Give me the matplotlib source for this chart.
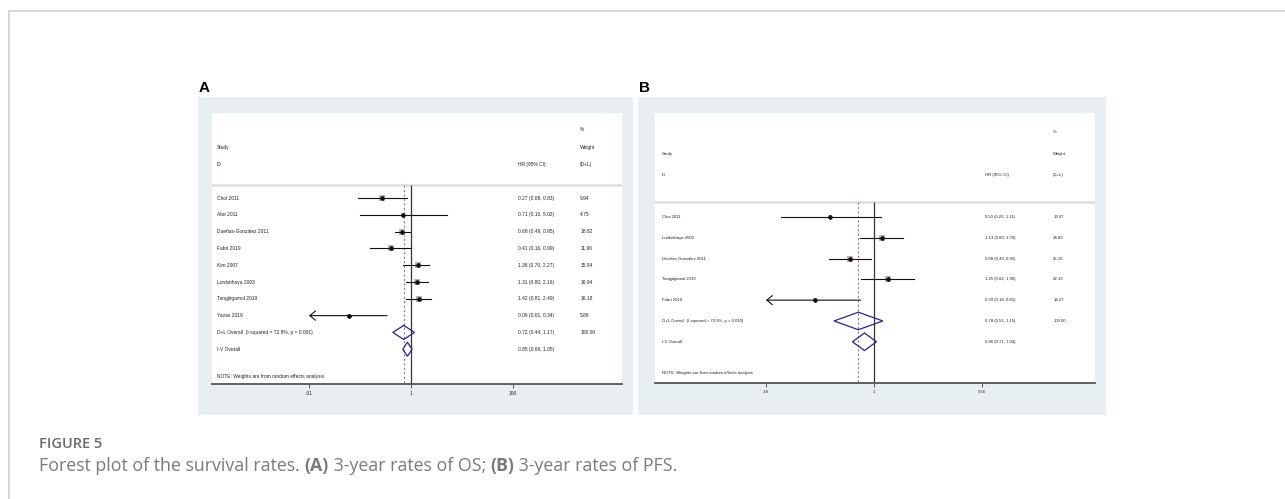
import matplotlib
matplotlib.use("Agg")
import matplotlib.pyplot as plt
from matplotlib.patches import Rectangle, Polygon
from matplotlib.transforms import blended_transform_factory

W, H = 1285, 499

# panel A: 3-year OS
a_studies = ["Choi 2011", "Abe 2011", "Dueñas-Gonzalez 2011", "Fabri 2019", "Kim 2007",
             "Lordvithaya 2003", "Tangjitgamol 2019", "Yavas 2019"]
a_hr = [0.27, 0.71, 0.68, 0.41, 1.38, 1.31, 1.42, 0.06]
a_lo = [0.09, 0.10, 0.49, 0.16, 0.70, 0.80, 0.81, 0.01]
a_hi = [0.83, 5.02, 0.95, 0.99, 2.27, 2.16, 2.49, 0.34]
a_wt = [9.94, 4.75, 18.82, 11.96, 15.84, 16.94, 16.18, 5.86]
a_dl = [0.72, 0.44, 1.17]
a_iv = [0.85, 0.69, 1.05]
a_isq = "72.8%"
a_p = "0.001"
a_ticks = [0.01, 1, 100]
a_ticklabels = [".01", "1", "100"]

# panel B: 3-year PFS
b_studies = ["Choi 2011", "Lordvithaya 2003", "Dueñas-Gonzalez 2011", "Tangjitgamol 2019", "Fabri 2019"]
b_hr = [0.50, 1.13, 0.68, 1.25, 0.39]
b_lo = [0.23, 0.80, 0.49, 0.82, 0.18]
b_hi = [1.11, 1.59, 0.95, 1.90, 0.81]
b_wt = [13.07, 24.83, 25.16, 22.19, 14.27]
b_dl = [0.78, 0.53, 1.15]
b_iv = [0.86, 0.71, 1.04]
b_isq = "70.9%"
b_p = "0.010"
b_ticks = [0.18, 1, 5.56]
b_ticklabels = [".18", "1", "5.56"]

plt.rcParams['font.family'] = ['Liberation Sans', 'DejaVu Sans']

fig = plt.figure(figsize=(W / 100, H / 100), dpi=100)
bg = fig.add_axes([0, 0, 1, 1])
bg.set_xlim(0, W)
bg.set_ylim(H, 0)
bg.axis('off')

# outer frame (top and left)
bg.plot([9, W], [11, 11], color='#cfcfcf', lw=1.2)
bg.plot([9, 9], [11, H], color='#cfcfcf', lw=1.2)

PANEL_BG = '#e8eff2'
TXT = '#222222'


def fx(px):
    return px / W


def fy(py):
    return 1 - py / H


def panel(label, gray, white, xlog, rows_lim, sep, cols, studies, hr, lo, hi, wt,
          dl, iv, isq, p, ticks, ticklabels, box_k, fs):
    gx0, gy0, gx1, gy1 = gray
    bg.add_patch(Rectangle((gx0, gy0), gx1 - gx0, gy1 - gy0, color=PANEL_BG, lw=0))
    bg.text(gx0 + 1, gy0 - 5, label, fontsize=11, fontweight='bold', ha='left', va='baseline')

    wx0, wy0, wx1, wy1 = white
    ax = fig.add_axes([fx(wx0), fy(wy1), fx(wx1) - fx(wx0), (wy1 - wy0) / H])
    ax.set_facecolor('white')
    ax.set_xscale('log')
    ax.set_xlim(10 ** xlog[0], 10 ** xlog[1])
    ax.set_ylim(rows_lim[1], rows_lim[0])
    for s in ['top', 'left', 'right']:
        ax.spines[s].set_visible(False)
    ax.spines['bottom'].set_color('#555555')
    ax.spines['bottom'].set_linewidth(1.3)
    ax.set_yticks([])
    ax.set_xticks(ticks)
    ax.set_xticklabels(ticklabels)
    ax.minorticks_off()
    ax.tick_params(axis='x', length=3, width=0.7, color='#555555', labelsize=fs, pad=2,
                   labelcolor=TXT)

    tr = blended_transform_factory(ax.transAxes, ax.transData)
    c_study, c_hr, c_wt = cols
    bottom = rows_lim[1]

    ax.axhline(sep, color='#dddddd', lw=1.8)
    ax.vlines(1, sep, bottom, color='#333333', lw=0.9)
    ax.vlines(dl[0], sep, bottom, color='#c06a6a', lw=0.8, linestyles=(0, (2, 2)))

    kw = dict(fontsize=fs, color=TXT, va='center', transform=tr)
    ax.text(c_wt, -4.1, "%", **kw)
    ax.text(c_study, -3, "Study", **kw)
    ax.text(c_wt, -3, "Weight", **kw)
    ax.text(c_study, -2, "ID", **kw)
    ax.text(c_hr, -2, "HR (95% CI)", **kw)
    ax.text(c_wt, -2, "(D+L)", **kw)

    for i, name in enumerate(studies):
        ax.scatter(hr[i], i, marker='s', s=(box_k * wt[i] ** 0.5) ** 2, color='#b5b5b5',
                   lw=0, zorder=2)
        if lo[i] <= ticks[0]:
            ax.annotate("", xy=(ticks[0], i), xytext=(hi[i], i), zorder=3,
                        arrowprops=dict(arrowstyle='->, head_length=0.4, head_width=0.33',
                                        lw=0.8, color='#111111', shrinkA=0, shrinkB=0))
        else:
            ax.plot([lo[i], hi[i]], [i, i], color='#111111', lw=0.8, zorder=3)
        ax.plot(hr[i], i, marker='D', ms=2.0, color='#111111', zorder=4)
        ax.text(c_study, i, name, **kw)
        ax.text(c_hr, i, f"{hr[i]:.2f} ({lo[i]:.2f}, {hi[i]:.2f})", **kw)
        ax.text(c_wt, i, f"{wt[i]:.2f}", **kw)

    n = len(studies)
    for j, (est, l, h) in enumerate([dl, iv]):
        y = n + j
        ax.add_patch(Polygon([(l, y), (est, y - 0.42), (h, y), (est, y + 0.42)],
                             closed=True, fill=False, edgecolor='#1f2a8a', lw=0.9, zorder=3))
        ax.text(c_hr, y, f"{est:.2f} ({l:.2f}, {h:.2f})", **kw)
    ax.text(c_study, n, f"D+L Overall  (I-squared = {isq}, p = {p})", **kw)
    ax.text(c_wt, n, "100.00", **kw)
    ax.text(c_study, n + 1, "I-V Overall", **kw)
    ax.text(c_study, rows_lim[2], "NOTE: Weights are from random effects analysis", **kw)
    return ax


panel("A", (198, 97, 633, 415), (212, 113, 622, 384), (-3.902, 4.137),
      (-5.06, 11.07, 10.65), -0.8, (0.012, 0.746, 0.898),
      a_studies, a_hr, a_lo, a_hi, a_wt, a_dl, a_iv, a_isq, a_p,
      a_ticks, a_ticklabels, 1.15, 3.5)

panel("B", (638, 97, 1106, 415), (655, 113, 1095, 383), (-1.51, 1.524),
      (-4.99, 7.98, 7.5), -0.72, (0.015, 0.75, 0.905),
      b_studies, b_hr, b_lo, b_hi, b_wt, b_dl, b_iv, b_isq, b_p,
      b_ticks, b_ticklabels, 0.95, 3.1)

# caption
bg.text(39, 448, "FIGURE 5", fontsize=10.5, family='Open Sans', fontweight='semibold',
        color='#6b6b6b', ha='left', va='baseline')
pieces = [("Forest plot of the survival rates. ", 'normal'), ("(A)", 'bold'),
          (" 3-year rates of OS; ", 'normal'), ("(B)", 'bold'),
          (" 3-year rates of PFS.", 'normal')]
prev = None
for txt, wgt in pieces:
    if prev is None:
        prev = bg.text(39, 471, txt, fontsize=12.8, family='Open Sans', fontweight=wgt,
                       color='#7a7a7a', ha='left', va='baseline')
    else:
        prev = bg.annotate(txt, xy=(1, 0), xycoords=prev, fontsize=12.8, family='Open Sans',
                           fontweight=wgt, color='#7a7a7a', ha='left', va='bottom')

fig.savefig("out.png", dpi=100)
